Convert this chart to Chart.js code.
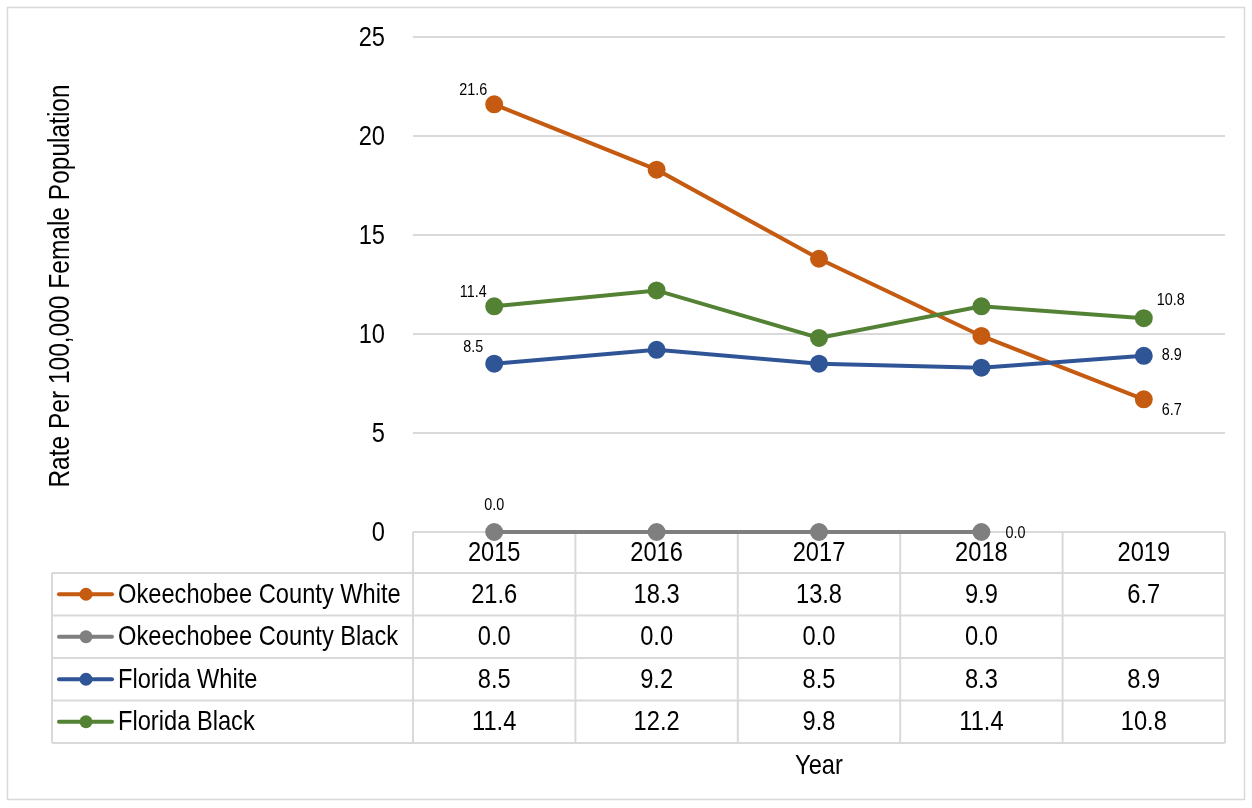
<!DOCTYPE html>
<html>
<head>
<meta charset="utf-8">
<script src="https://cdn.jsdelivr.net/npm/chart.js@4.4.1/dist/chart.umd.min.js"></script>
<style>
  body { margin: 0; background: #fff; }
  canvas { display: block; }
</style>
</head>
<body>
<canvas id="rateChart" width="1252" height="808"></canvas>
<script>
// Data
const years = ['2015', '2016', '2017', '2018', '2019'];
const seriesNames = ['Okeechobee County White', 'Okeechobee County Black', 'Florida White', 'Florida Black'];
const okeeWhite = [21.6, 18.3, 13.8, 9.9, 6.7];
const okeeBlack = [0.0, 0.0, 0.0, 0.0, null];
const flWhite = [8.5, 9.2, 8.5, 8.3, 8.9];
const flBlack = [11.4, 12.2, 9.8, 11.4, 10.8];
const yMin = 0;
const yMax = 25;
const yStep = 5;

const FONT = "'Liberation Sans', Arial, sans-serif";
const NARROW = 0.845; // the original uses a condensed face
const GRID = '#d9d9d9';
const colors = ['#c55a11', '#7f7f7f', '#2f5597', '#548235'];

// which points get a value label, and where (style only)
const labelSpots = [
  { 0: [-21, -14], 4: [28, 11] },
  { 0: [0, -27], 3: [34, 1] },
  { 0: [-21, -16], 4: [28, 0] },
  { 0: [-21, -14], 4: [27, -18] }
];

function makeSet(i, values) {
  return {
    label: seriesNames[i],
    data: values,
    borderColor: colors[i],
    backgroundColor: colors[i],
    pointBackgroundColor: colors[i],
    pointBorderColor: colors[i],
    borderWidth: 4,
    pointRadius: 7,
    pointHoverRadius: 7,
    tension: 0,
    spanGaps: false,
    clip: false,
    order: 4 - i
  };
}

// condensed text helper
function narrowText(ctx, text, x, y, size, align) {
  ctx.save();
  ctx.translate(x, y);
  ctx.scale(NARROW, 1);
  ctx.font = size + 'px ' + FONT;
  ctx.textAlign = align || 'center';
  ctx.textBaseline = 'middle';
  ctx.fillText(text, 0, 0);
  ctx.restore();
}

// table under the plot, outer frame, axis titles
const tablePlugin = {
  id: 'tablePlugin',
  beforeDraw(chart) {
    const ctx = chart.ctx;
    ctx.save();
    ctx.strokeStyle = GRID;
    ctx.lineWidth = 1.5;
    ctx.strokeRect(7.5, 7.5, 1237, 792);
    ctx.restore();
  },
  beforeDatasetsDraw(chart) {
    const ctx = chart.ctx;
    const area = chart.chartArea;
    const x = chart.scales.x;
    const y = chart.scales.y;
    const colW = (area.right - area.left) / years.length;
    const rowH = 42.5;
    const headTop = area.bottom;
    const headBottom = headTop + 41;
    const legendLeft = 52;
    const allSeries = [okeeWhite, okeeBlack, flWhite, flBlack];
    const tableBottom = headBottom + rowH * allSeries.length;

    ctx.save();
    ctx.fillStyle = '#000';
    // y tick labels
    y.ticks.forEach(t => {
      narrowText(ctx, String(t.value), area.left - 28, y.getPixelForValue(t.value) + 1, 28, 'right');
    });

    ctx.strokeStyle = GRID;
    ctx.lineWidth = 2;
    ctx.beginPath();
    ctx.moveTo(area.left, headTop);
    ctx.lineTo(area.right, headTop);
    for (let r = 0; r <= allSeries.length; r++) {
      const yy = headBottom + r * rowH;
      ctx.moveTo(legendLeft, yy);
      ctx.lineTo(area.right, yy);
    }
    for (let c = 0; c <= years.length; c++) {
      const xx = area.left + c * colW;
      ctx.moveTo(xx, headTop);
      ctx.lineTo(xx, tableBottom);
    }
    ctx.moveTo(legendLeft, headBottom);
    ctx.lineTo(legendLeft, tableBottom);
    ctx.stroke();

    years.forEach((yr, i) => {
      narrowText(ctx, yr, x.getPixelForValue(i), (headTop + headBottom) / 2 + 1, 28);
    });

    allSeries.forEach((vals, r) => {
      const cy = headBottom + r * rowH + rowH / 2 + 1;
      vals.forEach((v, i) => {
        if (v === null) return;
        narrowText(ctx, v.toFixed(1), x.getPixelForValue(i), cy, 28);
      });
      // legend key
      ctx.strokeStyle = colors[r];
      ctx.lineWidth = 4;
      ctx.lineCap = 'round';
      ctx.beginPath();
      ctx.moveTo(59, cy - 1);
      ctx.lineTo(112, cy - 1);
      ctx.stroke();
      ctx.fillStyle = colors[r];
      ctx.beginPath();
      ctx.arc(86, cy - 1, 6.5, 0, Math.PI * 2);
      ctx.fill();
      ctx.fillStyle = '#000';
      narrowText(ctx, seriesNames[r], 118, cy, 28, 'left');
    });

    // x axis title
    narrowText(ctx, 'Year', (area.left + area.right) / 2, 766, 28);

    // y axis title
    ctx.save();
    ctx.translate(61, 286);
    ctx.rotate(-Math.PI / 2);
    narrowText(ctx, 'Rate Per 100,000 Female Population', 0, 0, 29);
    ctx.restore();
    ctx.restore();
  },
  afterDatasetsDraw(chart) {
    const ctx = chart.ctx;
    ctx.save();
    ctx.fillStyle = '#000';
    chart.data.datasets.forEach((ds, di) => {
      const meta = chart.getDatasetMeta(di);
      const spots = labelSpots[di];
      Object.keys(spots).forEach(k => {
        const pt = meta.data[k];
        const v = ds.data[k];
        if (!pt || v === null) return;
        const off = spots[k];
        narrowText(ctx, v.toFixed(1), pt.x + off[0], pt.y + off[1], 17);
      });
    });
    ctx.restore();
  }
};

Chart.defaults.font.family = FONT;
Chart.defaults.color = '#000';

new Chart(document.getElementById('rateChart'), {
  type: 'line',
  data: {
    labels: years,
    datasets: [
      makeSet(0, okeeWhite),
      makeSet(1, okeeBlack),
      makeSet(2, flWhite),
      makeSet(3, flBlack)
    ]
  },
  options: {
    responsive: false,
    animation: false,
    layout: { padding: { left: 0, top: 37, right: 27, bottom: 276 } },
    plugins: {
      legend: { display: false },
      tooltip: { enabled: false }
    },
    scales: {
      x: {
        type: 'category',
        offset: true,
        display: false
      },
      y: {
        min: yMin,
        max: yMax,
        ticks: {
          stepSize: yStep,
          display: false
        },
        grid: {
          color: ctx => ctx.tick && ctx.tick.value === 0 ? 'rgba(0,0,0,0)' : GRID,
          lineWidth: 2,
          drawTicks: false
        },
        border: { display: false },
        afterFit(scale) { scale.width = 413; }
      }
    }
  },
  plugins: [tablePlugin]
});
</script>
</body>
</html>
